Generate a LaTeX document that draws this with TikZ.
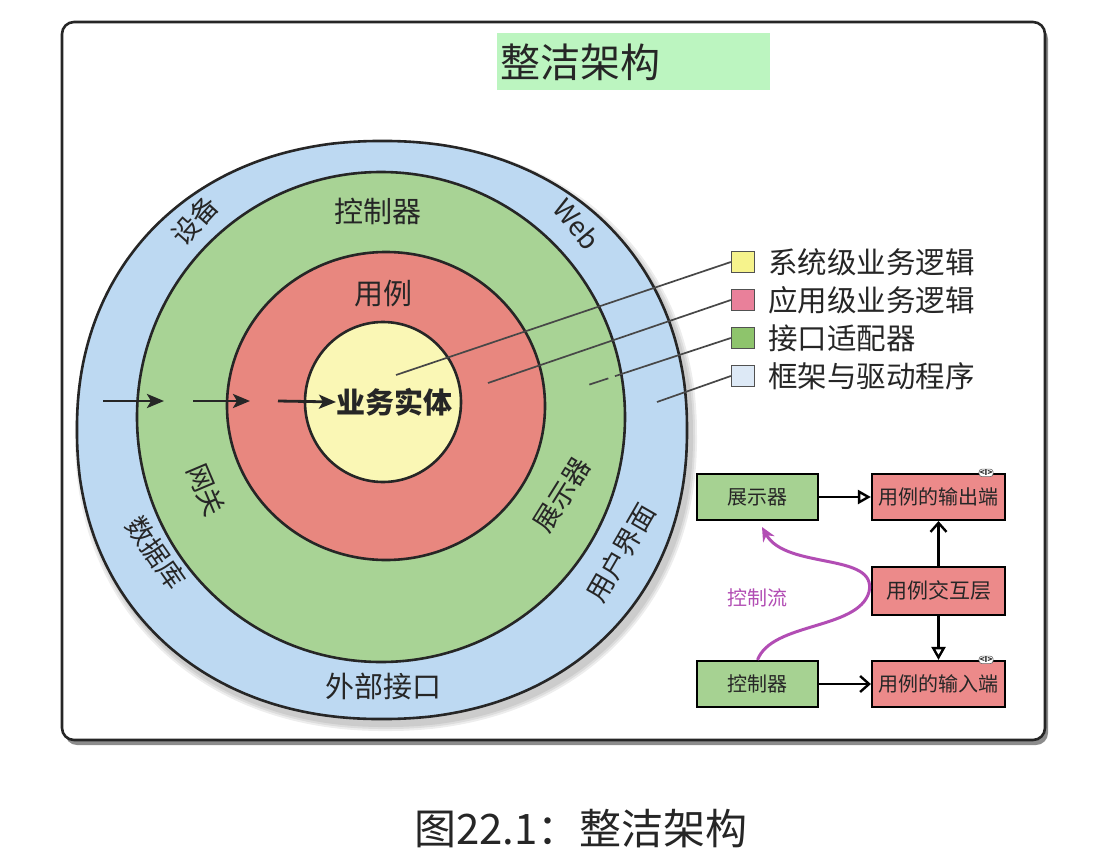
\documentclass[tikz,border=0pt]{standalone}
\usepackage{fontspec}
\setmainfont{Noto Sans CJK SC}
\usetikzlibrary{arrows.meta}
\definecolor{ringblue}{HTML}{BDD9F2}
\definecolor{ringgreen}{HTML}{A8D395}
\definecolor{ringred}{HTML}{E8877F}
\definecolor{ringyellow}{HTML}{FAF7B5}
\definecolor{titlegreen}{HTML}{BCF5C0}
\definecolor{keyyellow}{HTML}{F6F38C}
\definecolor{keyred}{HTML}{E9809A}
\definecolor{keygreen}{HTML}{8EC46C}
\definecolor{keyblue}{HTML}{DDE9F6}
\definecolor{boxgreen}{HTML}{A6D292}
\definecolor{boxred}{HTML}{EC8A8A}
\definecolor{flowpurple}{HTML}{B24DB4}
\definecolor{ink}{HTML}{262626}
\newcommand\fs[1]{\fontsize{#1}{#1}\selectfont}

\begin{document}
\begin{tikzpicture}[x=1pt,y=-1pt,
  ring/.style={draw=ink,line width=2.6pt},
  ringlabel/.style={text=ink,font=\fs{29},inner sep=0pt},
  keybox/.style={draw=ink!80,line width=1.3pt,minimum width=23pt,minimum height=21pt,inner sep=0pt},
  keytext/.style={text=ink,font=\fs{29.5},anchor=west,inner sep=0pt},
  keyline/.style={draw=ink!85,line width=1.7pt},
  inarrow/.style={draw=ink,line width=2.8pt,-{Stealth[length=17pt,width=14pt,inset=4pt]}},
  unit/.style={draw=black,line width=2.2pt,minimum width=121pt,minimum height=46pt,inner sep=0pt,font=\fs{20},text=ink},
  wideunit/.style={unit,fill=boxred,minimum width=133pt},
  flat/.style={line width=2.4pt,draw=black},
  realize/.style={flat,-{Triangle[open,length=13pt,width=14pt]}},
  uses/.style={flat,-{Straight Barb[length=9pt,width=16pt]}},
  iface/.style={fill=white,draw=ink!70,line width=0.6pt,rounded corners=3pt,inner sep=0.8pt,font=\bfseries\fs{8},text=ink},
  outerring/.style={domain=1:361,samples=121,smooth,variable=\t}
]
\useasboundingbox (0,0) rectangle (1116,864);

% outer frame with its shadow
\fill[black,opacity=0.45,rounded corners=12pt] (65,27) rectangle (1048,745);
\draw[ink,line width=2.6pt,rounded corners=12pt,fill=white] (62,22) rectangle (1045,740);

% title
\node[fill=titlegreen,anchor=north west,minimum width=273pt,minimum height=57pt,inner sep=0pt] (titlebox) at (497,33) {};
\node[anchor=west,font=\fs{40},text=ink,inner sep=0pt] (title) at (500,62) {整洁架构};

% soft shadows under the rings (outer ring is a slightly squared ellipse)
\foreach \g in {12,8,4}
  \fill[black,opacity=0.07] plot[outerring]
    ({386+(305+\g/2)*sign(cos(\t))*pow(abs(cos(\t)),2/2.15)},
     {436+(289+\g/2)*sign(sin(\t))*pow(abs(sin(\t)),2/2.15)}) -- cycle;
\foreach \g in {8,4}
  \fill[black,opacity=0.08] (384,422) ellipse [x radius=244+\g/2, y radius=245+\g/2];
\foreach \g in {8,4}
  \fill[black,opacity=0.08] (388,411) ellipse [x radius=159+\g/2, y radius=154+\g/2];

% the four rings
\filldraw[ring,fill=ringblue] plot[outerring]
    ({382+305*sign(cos(\t))*pow(abs(cos(\t)),2/2.15)},
     {430+289*sign(sin(\t))*pow(abs(sin(\t)),2/2.15)}) -- cycle;
\filldraw[ring,fill=ringgreen]  (381,417) ellipse [x radius=244, y radius=245];
\filldraw[ring,fill=ringred]    (386,406) ellipse [x radius=159, y radius=154];
\filldraw[ring,fill=ringyellow] (383,402) ellipse [x radius=78, y radius=80];

% ring labels
\node[ringlabel,rotate=48,font=\fs{27}]  (dev) at (195,221) {设备};
\node[ringlabel,rotate=-50,font=\fs{27}] (web) at (577,224) {Web};
\node[ringlabel]            (ctl)  at (378,211) {控制器};
\node[ringlabel]            (uc)   at (383,294) {用例};
\node[ringlabel,rotate=-67,font=\fs{27}] (gw) at (206,490) {网关};
\node[ringlabel,rotate=-55,font=\fs{27}] (db) at (156,553) {数据库};
\node[ringlabel,rotate=58,font=\fs{27}]  (pr) at (562,495) {展示器};
\node[ringlabel,rotate=60,font=\fs{27}]  (ui) at (621,553) {用户界面};
\node[ringlabel]            (ext)  at (383,686) {外部接口};
\node[ringlabel,font=\bfseries\fs{29},anchor=west] (ent) at (336,402) {业务实体};

% dependency arrows pointing inwards
\coordinate (a1s) at (103,401); \coordinate (a1e) at (164,401);
\coordinate (a2s) at (193,401); \coordinate (a2e) at (250,401);
\coordinate (a3s) at (278,401);
\draw[inarrow] (a1s) -- (a1e);
\draw[inarrow] (a2s) -- (a2e);
\draw[inarrow] (a3s) -- (ent.west);

% legend
\node[keybox,fill=keyyellow] (k1) at (743,262) {};
\node[keybox,fill=keyred]    (k2) at (743,300) {};
\node[keybox,fill=keygreen]  (k3) at (743,338) {};
\node[keybox,fill=keyblue]   (k4) at (743,376) {};
\node[keytext] (t1) at (768,262) {系统级业务逻辑};
\node[keytext] (t2) at (768,300) {应用级业务逻辑};
\node[keytext] (t3) at (768,338) {接口适配器};
\node[keytext] (t4) at (768,376) {框架与驱动程序};
\coordinate (p1) at (396,375);
\coordinate (p2) at (488,383);
\coordinate (p3) at (582,387);
\coordinate (p4) at (657,402);
\draw[keyline] (k1.west) -- (p1);
\draw[keyline] (k2.west) -- (p2);
\draw[keyline,dash pattern=on 122pt off 7pt on 20pt] (k3.west) -- (p3);
\draw[keyline] (k4.west) -- (p4);

% flow of control through the use case
\node[unit,fill=boxgreen] (pres)  at (757.5,497) {展示器};
\node[wideunit]           (outp)  at (938.5,497) {用例的输出端};
\node[wideunit,minimum height=48pt,font=\fs{21}] (inter) at (938.5,591) {用例交互层};
\node[unit,fill=boxgreen] (ctrl)  at (757.5,684) {控制器};
\node[wideunit]           (inp)   at (938.5,684) {用例的输入端};
\node[iface] (outpI) at ([xshift=-20pt]outp.north east) {<I>};
\node[iface] (inpI)  at ([xshift=-20pt]inp.north east) {<I>};

\draw[realize] (pres) -- (outp);
\draw[uses]    (inter) -- (outp);
\draw[realize] (inter) -- (inp);
\draw[uses]    (ctrl) -- (inp);

\coordinate (flowend) at (762,527);
\draw[flowpurple,line width=3pt,-{Stealth[length=14pt,width=13pt]}]
  (ctrl.north) .. controls (772,622) and (858,630) .. (869,592)
  .. controls (878,552) and (786,570) .. (flowend);
\node[text=flowpurple,font=\fs{20}] (flow) at (757,598) {控制流};

% caption
\node[font=\fs{42},text=ink] (cap) at (581,829) {图22.1：整洁架构};
\end{tikzpicture}
\end{document}
